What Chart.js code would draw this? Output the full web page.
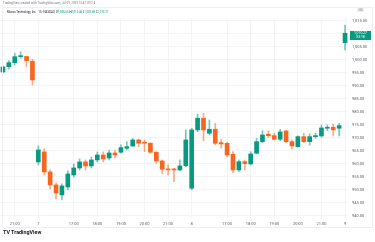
<!DOCTYPE html>
<html>
<head>
<meta charset="utf-8">
<script src="https://cdn.jsdelivr.net/npm/chart.js@4/dist/chart.umd.min.js"></script>
<style>
  body { margin: 0; background: #fff; font-family: Roboto, "Liberation Sans", sans-serif; }
  #wrap { position: relative; width: 375px; height: 242px; overflow: hidden; }
  #chart { position: absolute; left: 0; top: 0; }
  .frame { position: absolute; left: 2px; top: 7px; width: 369px; height: 219px; border: 1px solid #eceef3; pointer-events: none; }
  .credit { position: absolute; left: 3px; top: 1px; font-size: 3px; color: #787b86; white-space: nowrap; }
  .legend { position: absolute; left: 7px; top: 10px; font-size: 2.8px; color: #131722; white-space: nowrap; }
  .legend .v { color: #089981; }
  .usd { position: absolute; left: 357px; top: 9px; font-size: 2.6px; color: #787b86; background: #f0f3fa; padding: 0 1px; }
  .logo { position: absolute; left: 3px; top: 229px; font-size: 5.4px; font-weight: bold; color: #131722; white-space: nowrap; }
  #last { position: absolute; left: 350px; width: 21px; background: #089981; color: #fff; font-size: 3.4px; line-height: 4.4px; text-align: center; }
</style>
</head>
<body>
<div id="wrap">
  <canvas id="chart" width="375" height="242"></canvas>
  <div class="frame"></div>
  <div class="credit">TradingView created with TradingView.com, Jul 09, 2025 15:41 UTC-4</div>
  <div class="legend">Micron Technology, Inc. · 15 · NASDAQ &nbsp;O<span class="v">1,006.65</span> H<span class="v">1,013.46</span> L<span class="v">1,003.85</span> C<span class="v">1,010.27</span></div>
  <div class="usd">USD</div>
  <div id="last">1,010.27<br>03:18</div>
  <div class="logo">TV TradingView</div>
</div>
<script>
// 15 min candles
const categories = [
  'Jul 3 20:30', 'Jul 3 20:45', 'Jul 3 21:00', 'Jul 3 21:15', 'Jul 3 21:30', 'Jul 3 21:45',
  'Jul 7 15:30', 'Jul 7 15:45', 'Jul 7 16:00', 'Jul 7 16:15', 'Jul 7 16:30', 'Jul 7 16:45',
  'Jul 7 17:00', 'Jul 7 17:15', 'Jul 7 17:30', 'Jul 7 17:45', 'Jul 7 18:00', 'Jul 7 18:15',
  'Jul 7 18:30', 'Jul 7 18:45', 'Jul 7 19:00', 'Jul 7 19:15', 'Jul 7 19:30', 'Jul 7 19:45',
  'Jul 7 20:00', 'Jul 7 20:15', 'Jul 7 20:30', 'Jul 7 20:45', 'Jul 7 21:00', 'Jul 7 21:15',
  'Jul 7 21:30', 'Jul 7 21:45',
  'Jul 8 15:30', 'Jul 8 15:45', 'Jul 8 16:00', 'Jul 8 16:15', 'Jul 8 16:30', 'Jul 8 16:45',
  'Jul 8 17:00', 'Jul 8 17:15', 'Jul 8 17:30', 'Jul 8 17:45', 'Jul 8 18:00', 'Jul 8 18:15',
  'Jul 8 18:30', 'Jul 8 18:45', 'Jul 8 19:00', 'Jul 8 19:15', 'Jul 8 19:30', 'Jul 8 19:45',
  'Jul 8 20:00', 'Jul 8 20:15', 'Jul 8 20:30', 'Jul 8 20:45', 'Jul 8 21:00', 'Jul 8 21:15',
  'Jul 8 21:30', 'Jul 8 21:45',
  'Jul 9 15:30'
];
const opens = [
  995.38, 997.42, 998.96, 1001.27, 1001.35, 999.50,
  960.77, 964.62, 956.92, 951.92, 948.08, 951.15, 955.77, 958.46, 960.77, 959.23, 961.54, 963.46, 962.31,
  964.23, 964.50, 966.04, 966.92, 969.23, 968.19, 967.96, 964.50, 961.15, 958.08, 957.96, 957.69, 959.35,
  950.65, 973.08, 977.58, 971.81, 973.35, 968.19, 967.96, 963.73, 957.69, 960.88, 960.00, 964.12, 968.58,
  971.42, 970.88, 969.50, 972.69, 968.58, 966.65, 970.50, 968.58, 970.50, 970.77, 973.73, 974.12, 973.73,
  1006.65
];
const highs = [
  997.69, 999.73, 1002.58, 1003.19, 1001.54, 1000.27,
  966.92, 965.77, 957.69, 952.69, 952.31, 957.31, 960.00, 961.92, 961.54, 962.69, 964.62, 964.62, 965.38,
  965.38, 967.31, 968.58, 969.88, 969.50, 969.23, 968.19, 964.73, 961.54, 959.62, 958.35, 961.54, 973.08,
  973.73, 979.23, 979.50, 976.92, 975.65, 969.50, 968.35, 964.73, 961.54, 961.54, 964.73, 969.88, 972.81,
  972.81, 971.81, 973.35, 972.81, 969.23, 970.77, 971.81, 971.54, 971.81, 975.00, 975.00, 975.38, 975.65,
  1013.46
];
const lows = [
  995.00, 996.42, 998.08, 1000.65, 997.42, 990.38,
  959.62, 955.77, 950.38, 946.54, 946.15, 950.00, 955.00, 957.69, 957.69, 958.46, 960.77, 960.77, 961.54,
  962.31, 964.12, 965.38, 966.65, 966.65, 964.73, 964.12, 960.27, 956.15, 955.77, 953.19, 957.42, 958.96,
  950.00, 972.42, 968.96, 971.15, 967.31, 966.04, 962.81, 956.65, 957.04, 957.69, 959.62, 963.85, 968.19,
  970.27, 969.23, 968.96, 968.19, 965.65, 966.42, 968.19, 967.31, 969.88, 970.27, 972.81, 970.77, 970.77,
  1003.85
];
const closes = [
  997.31, 998.96, 1001.27, 1001.46, 999.73, 992.31,
  965.38, 956.92, 951.92, 948.85, 951.54, 956.15, 958.46, 960.77, 959.23, 961.54, 963.46, 961.92, 964.23,
  963.46, 966.27, 966.65, 969.23, 967.96, 967.96, 964.50, 961.15, 957.96, 957.69, 957.69, 959.23, 969.23,
  973.08, 977.58, 973.08, 973.35, 967.96, 967.69, 963.46, 957.69, 960.88, 960.12, 963.85, 968.58, 971.15,
  970.88, 969.50, 972.31, 968.58, 966.92, 970.50, 968.58, 970.50, 970.77, 973.85, 973.96, 973.08, 974.73,
  1010.27
];

const UP = '#089981';
const DOWN = '#f8651f';
const candleColor = (i) => closes[i] >= opens[i] ? UP : DOWN;
const wickColor = (i) => closes[i] >= opens[i] ? 'rgba(8,153,129,0.55)' : 'rgba(248,101,31,0.55)';

const lastLabel = {
  id: 'lastLabel',
  afterRender(chart) {
    const y = chart.scales.y.getPixelForValue(closes[closes.length - 1]);
    const el = document.getElementById('last');
    el.style.top = (y - 2.5) + 'px';
  }
};

new Chart(document.getElementById('chart'), {
  type: 'bar',
  data: {
    labels: categories,
    datasets: [
      {
        label: 'wick',
        data: categories.map((c, i) => [lows[i], highs[i]]),
        backgroundColor: categories.map((c, i) => wickColor(i)),
        barThickness: 1,
        grouped: false,
        order: 2
      },
      {
        label: 'body',
        data: categories.map((c, i) => [opens[i], closes[i]]),
        backgroundColor: categories.map((c, i) => candleColor(i)),
        barThickness: 4,
        minBarLength: 1,
        grouped: false,
        order: 1
      }
    ]
  },
  options: {
    responsive: false,
    animation: false,
    layout: { padding: { top: 18, left: 0, right: 0, bottom: 0 } },
    plugins: { legend: { display: false }, tooltip: { enabled: false } },
    scales: {
      x: {
        offset: true,
        afterFit: (s) => { s.height = 24; },
        grid: { offset: false, color: '#f3f4f8', drawTicks: false },
        border: { display: false },
        ticks: {
          autoSkip: false,
          maxRotation: 0,
          padding: 4,
          color: '#5d606b',
          font: { size: 4, family: 'Roboto' },
          callback: function (v, i) {
            const parts = categories[i].split(' ');
            const hm = parts[2];
            if (hm === '15:30') return parts[1];
            if (hm.endsWith(':00') && hm !== '16:00') return hm;
            return null;
          }
        }
      },
      y: {
        position: 'right',
        min: 939.2,
        max: 1016.15,
        afterFit: (s) => { s.width = 27; },
        grid: { color: '#f3f4f8', drawTicks: false },
        border: { display: false },
        ticks: {
          stepSize: 5,
          includeBounds: false,
          padding: 4,
          color: '#5d606b',
          font: { size: 4, family: 'Roboto' },
          callback: (v) => v.toLocaleString('en-US', { minimumFractionDigits: 2, maximumFractionDigits: 2 })
        }
      }
    }
  },
  plugins: [lastLabel]
});
</script>
</body>
</html>
